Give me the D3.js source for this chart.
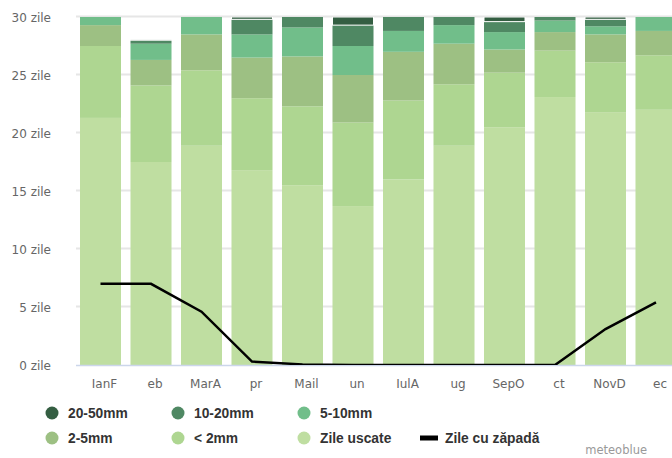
<!DOCTYPE html>
<html>
<head>
<meta charset="utf-8">
<script src="https://cdn.jsdelivr.net/npm/d3@7"></script>
<style>
  html, body { margin: 0; padding: 0; background: #fff; }
  svg { display: block; }
</style>
</head>
<body>
<svg id="chart" width="672" height="458"></svg>
<script>
// Monthly precipitation days (stacked) and snow days (line)
const months = ["IanF", "eb", "MarA", "pr", "Mail", "un", "IulA", "ug", "SepO", "ct", "NovD", "ec"];
const dryDays  = [21.3, 17.5, 18.9, 16.8, 15.5, 13.7, 16.0, 18.9, 20.5, 23.1, 21.8, 22.0];
const under2   = [6.2, 6.6, 6.5, 6.2, 6.8, 7.2, 6.8, 5.3, 4.7, 4.0, 4.3, 4.7];
const mm2to5   = [1.8, 2.2, 3.1, 3.5, 4.3, 4.1, 4.2, 3.5, 2.0, 1.6, 2.4, 2.1];
const mm5to10  = [1.2, 1.4, 2.0, 2.0, 2.5, 2.5, 1.8, 1.6, 1.5, 1.0, 0.7, 1.6];
const mm10to20 = [0.4, 0.3, 0.4, 1.3, 1.4, 1.8, 1.7, 1.2, 0.9, 0.9, 0.6, 0.5];
const mm20to50 = [0.1, 0.05, 0.1, 0.2, 0.5, 0.7, 0.5, 0.5, 0.4, 0.4, 0.2, 0.1];
const snowDays = [7.0, 7.0, 4.6, 0.3, 0.05, 0, 0, 0, 0, 0, 3.1, 5.4];
const yTicks = [0, 5, 10, 15, 20, 25, 30];

// Stack order, bottom to top
const seriesKeys   = ["uscate", "lt2", "m2_5", "m5_10", "m10_20", "m20_50"];
const seriesNames  = ["Zile uscate", "< 2mm", "2-5mm", "5-10mm", "10-20mm", "20-50mm"];
const seriesValues = [dryDays, under2, mm2to5, mm5to10, mm10to20, mm20to50];
const seriesColors = ["#bfdea1", "#aed691", "#9dc083", "#71be8a", "#4f8863", "#345e42"];

const rows = months.map((m, i) => {
  const r = { month: m };
  seriesKeys.forEach((k, j) => { r[k] = seriesValues[j][i]; });
  return r;
});

const svg = d3.select("#chart");
const plot = { left: 76, right: 681.25, top: 17, bottom: 365 };

const x = d3.scaleBand()
  .domain(months)
  .range([75.25, 681.25])
  .paddingInner(0.188)
  .paddingOuter(0.094);

const y = d3.scaleLinear().domain([0, 30]).range([plot.bottom, plot.top]);

// Clip for the plot area
svg.append("defs").append("clipPath").attr("id", "plotClip")
  .append("rect")
  .attr("x", plot.left).attr("y", plot.top)
  .attr("width", 672 - plot.left).attr("height", plot.bottom - plot.top);

// Grid lines
svg.append("g")
  .selectAll("line")
  .data(yTicks.filter(t => t > 0))
  .join("line")
  .attr("x1", plot.left).attr("x2", 672)
  .attr("y1", d => y(d) - 0.5).attr("y2", d => y(d) - 0.5)
  .attr("stroke", "#e6e6e6")
  .attr("stroke-width", 2);

// Y axis labels
svg.append("g")
  .selectAll("text")
  .data(yTicks)
  .join("text")
  .attr("x", 51)
  .attr("y", d => y(d) + 4.5)
  .attr("text-anchor", "end")
  .attr("font-family", "DejaVu Sans, sans-serif")
  .attr("font-size", 12)
  .attr("fill", "#666")
  .text(d => d + " zile");

// Stacked bars
const stacked = d3.stack().keys(seriesKeys)(rows);
const barLayer = svg.append("g").attr("clip-path", "url(#plotClip)");
stacked.forEach((layer, j) => {
  barLayer.append("g")
    .selectAll("rect")
    .data(layer)
    .join("rect")
    .attr("x", d => x(d.data.month))
    .attr("width", x.bandwidth())
    .attr("y", d => y(d[1]))
    .attr("height", d => Math.max(0, y(d[0]) - y(d[1])))
    .attr("fill", seriesColors[j])
    .attr("stroke", seriesKeys[j] === "m20_50" ? "#fff" : "none")
    .attr("stroke-width", 1);
});

// Zero axis line
svg.append("line")
  .attr("x1", plot.left).attr("x2", 672)
  .attr("y1", plot.bottom + 0.5).attr("y2", plot.bottom + 0.5)
  .attr("stroke", "#ccd6eb")
  .attr("stroke-width", 1.5);

// Snow days line
const line = d3.line()
  .x((d, i) => x(months[i]) + x.bandwidth() / 2)
  .y(d => y(d));
svg.append("path")
  .datum(snowDays)
  .attr("clip-path", "url(#plotClip)")
  .attr("d", line)
  .attr("fill", "none")
  .attr("stroke", "#000")
  .attr("stroke-width", 2.5);

// X axis labels
svg.append("g")
  .selectAll("text")
  .data(months)
  .join("text")
  .attr("x", d => x(d) + x.bandwidth() / 2 + 4)
  .attr("y", 388)
  .attr("text-anchor", "middle")
  .attr("font-family", "DejaVu Sans, sans-serif")
  .attr("font-size", 12)
  .attr("fill", "#666")
  .text(d => d);

// Legend
const legendItems = [
  { name: "20-50mm", color: seriesColors[5], type: "dot" },
  { name: "10-20mm", color: seriesColors[4], type: "dot" },
  { name: "5-10mm", color: seriesColors[3], type: "dot" },
  { name: "2-5mm", color: seriesColors[2], type: "dot" },
  { name: "< 2mm", color: seriesColors[1], type: "dot" },
  { name: "Zile uscate", color: seriesColors[0], type: "dot" },
  { name: "Zile cu zăpadă", color: "#000", type: "line" }
];
const legend = svg.append("g");
legendItems.forEach((it, i) => {
  const row = i < 3 ? 0 : 1;
  const col = i < 3 ? i : i - 3;
  const cx = 52 + col * 126;
  const cy = row === 0 ? 413 : 438;
  const g = legend.append("g");
  if (it.type === "dot") {
    g.append("circle").attr("cx", cx).attr("cy", cy).attr("r", 6.5).attr("fill", it.color);
  } else {
    g.append("rect").attr("x", cx - 10).attr("y", cy - 2.5).attr("width", 18).attr("height", 5).attr("fill", it.color);
  }
  g.append("text")
    .attr("x", it.type === "dot" ? cx + 16 : cx + 15)
    .attr("y", cy + 5)
    .attr("font-family", "Liberation Sans, Arial, sans-serif")
    .attr("font-weight", "bold")
    .attr("font-size", 13.8)
    .attr("fill", "#333")
    .text(it.name);
});

// Credit
svg.append("text")
  .attr("x", 647).attr("y", 454)
  .attr("text-anchor", "end")
  .attr("font-family", "DejaVu Sans, sans-serif")
  .attr("font-size", 11.5)
  .attr("fill", "#999")
  .text("meteoblue");
</script>
</body>
</html>
